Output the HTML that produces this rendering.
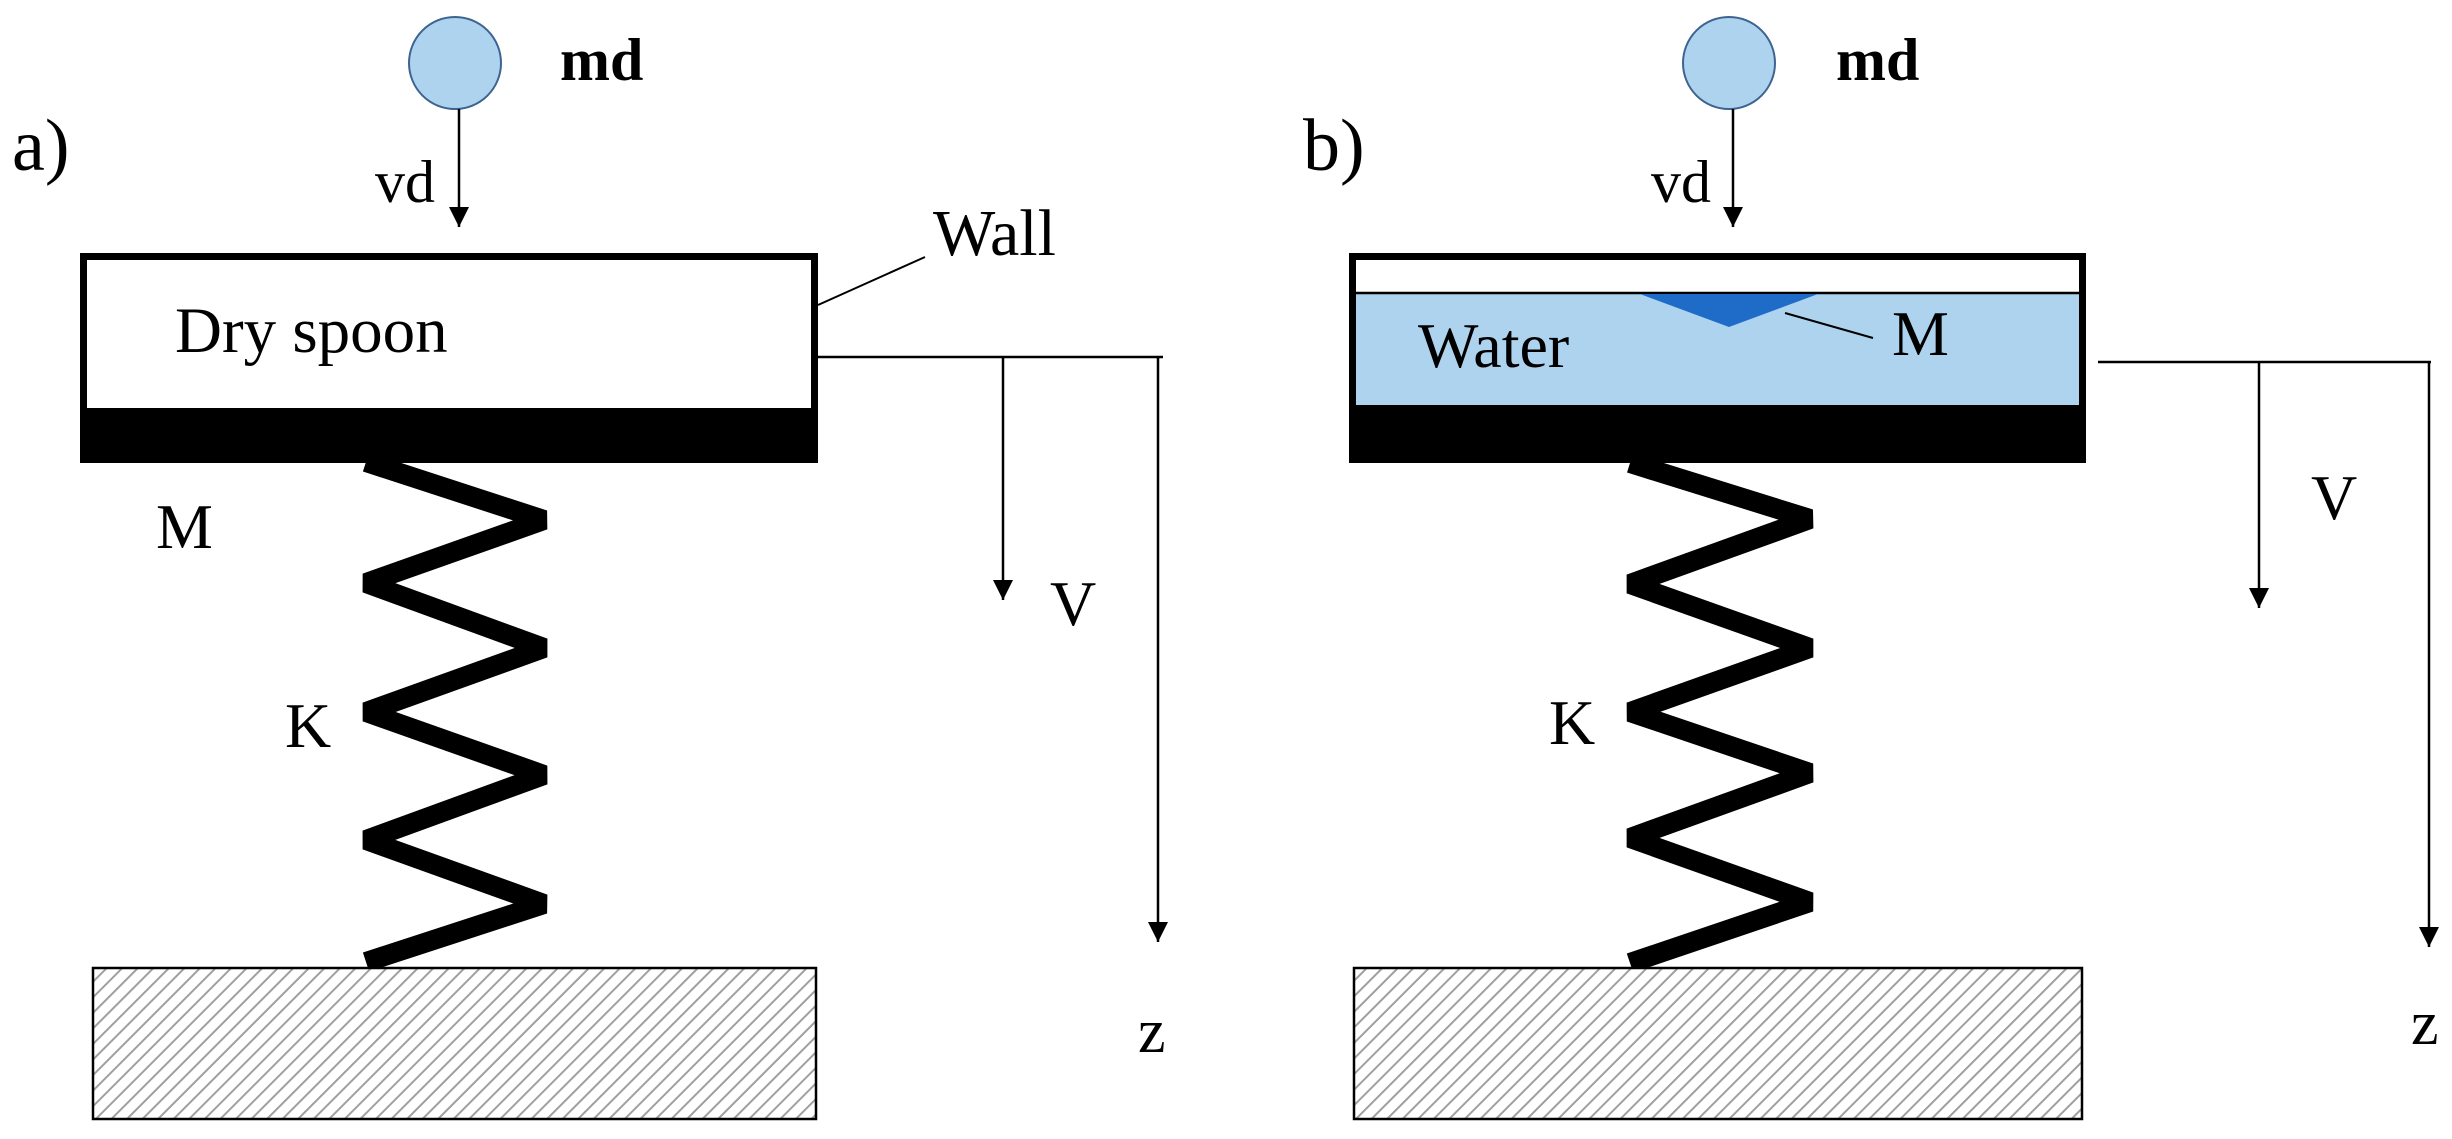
<!DOCTYPE html>
<html><head><meta charset="utf-8"><style>html,body{margin:0;padding:0;background:#fff}svg{display:block}</style></head>
<body>
<svg width="2452" height="1139" viewBox="0 0 2452 1139" xmlns="http://www.w3.org/2000/svg" font-family="'Liberation Serif', serif">
<defs>
<pattern id="h" patternUnits="userSpaceOnUse" width="11" height="11" patternTransform="rotate(45)">
<rect width="11" height="11" fill="#fff"/>
<line x1="0" y1="0" x2="0" y2="11" stroke="#a0a0a0" stroke-width="4"/>
</pattern>
<marker id="ar" viewBox="0 0 10 10" refX="10" refY="5" markerWidth="20" markerHeight="20" markerUnits="userSpaceOnUse" orient="auto">
<path d="M0,0 L10,5 L0,10 z" fill="#000"/>
</marker>
</defs>

<!-- Panel a -->
<text x="12" y="170" font-size="74">a)</text>
<circle cx="455" cy="63" r="46" fill="#aed3ef" stroke="#3d6390" stroke-width="2"/>
<text x="560" y="80" font-size="60" font-weight="bold">md</text>
<line x1="459" y1="109" x2="459" y2="227" stroke="#000" stroke-width="2.5" marker-end="url(#ar)"/>
<text x="435" y="202" font-size="60" text-anchor="end">vd</text>
<rect x="83.5" y="256.5" width="731" height="180" fill="#fff" stroke="#000" stroke-width="7"/>
<rect x="80" y="408" width="738" height="55" fill="#000"/>
<text x="175" y="352" font-size="65">Dry spoon</text>
<line x1="818" y1="305" x2="925" y2="257" stroke="#000" stroke-width="2"/>
<text x="933" y="255" font-size="66">Wall</text>
<line x1="818" y1="357" x2="1163" y2="357" stroke="#000" stroke-width="2.5"/>
<line x1="1003" y1="357" x2="1003" y2="600" stroke="#000" stroke-width="2.5" marker-end="url(#ar)"/>
<text x="1050" y="625" font-size="64">V</text>
<line x1="1158" y1="357" x2="1158" y2="942" stroke="#000" stroke-width="2.5" marker-end="url(#ar)"/>
<text x="1138" y="1052" font-size="62">z</text>
<polyline points="366,462 544,520 366,583 544,648 366,712 544,775 366,840 544,904 366,962" fill="none" stroke="#000" stroke-width="20" stroke-linejoin="miter" stroke-miterlimit="2"/>
<text x="156" y="548" font-size="64">M</text>
<text x="285" y="747" font-size="64">K</text>
<rect x="93" y="968" width="723" height="151" fill="url(#h)" stroke="#000" stroke-width="2.5"/>

<!-- Panel b -->
<text x="1303" y="170" font-size="74">b)</text>
<circle cx="1729" cy="63" r="46" fill="#aed3ef" stroke="#3d6390" stroke-width="2"/>
<text x="1836" y="80" font-size="60" font-weight="bold">md</text>
<line x1="1733" y1="109" x2="1733" y2="227" stroke="#000" stroke-width="2.5" marker-end="url(#ar)"/>
<text x="1711" y="202" font-size="60" text-anchor="end">vd</text>
<rect x="1352.5" y="256.5" width="730" height="180" fill="#fff" stroke="#000" stroke-width="7"/>
<rect x="1356" y="293" width="723" height="112" fill="#aed3ef"/>
<line x1="1356" y1="293" x2="2079" y2="293" stroke="#000" stroke-width="2.5"/>
<rect x="1349" y="405" width="737" height="58" fill="#000"/>
<polygon points="1640,294 1818,294 1729,327" fill="#1f6cc8"/>
<line x1="1785" y1="313" x2="1873" y2="338" stroke="#000" stroke-width="2"/>
<text x="1892" y="355" font-size="64">M</text>
<text x="1418" y="367" font-size="64">Water</text>
<line x1="2098" y1="362" x2="2431" y2="362" stroke="#000" stroke-width="2.5"/>
<line x1="2259" y1="362" x2="2259" y2="608" stroke="#000" stroke-width="2.5" marker-end="url(#ar)"/>
<text x="2311" y="519" font-size="64">V</text>
<line x1="2429" y1="362" x2="2429" y2="947" stroke="#000" stroke-width="2.5" marker-end="url(#ar)"/>
<text x="2411" y="1044" font-size="62">z</text>
<polyline points="1630,463 1810,519 1630,584 1810,648 1630,712 1810,773 1630,838 1810,902 1630,963" fill="none" stroke="#000" stroke-width="20" stroke-linejoin="miter" stroke-miterlimit="2"/>
<text x="1549" y="744" font-size="64">K</text>
<rect x="1354" y="968" width="728" height="151" fill="url(#h)" stroke="#000" stroke-width="2.5"/>
</svg>
</body></html>
